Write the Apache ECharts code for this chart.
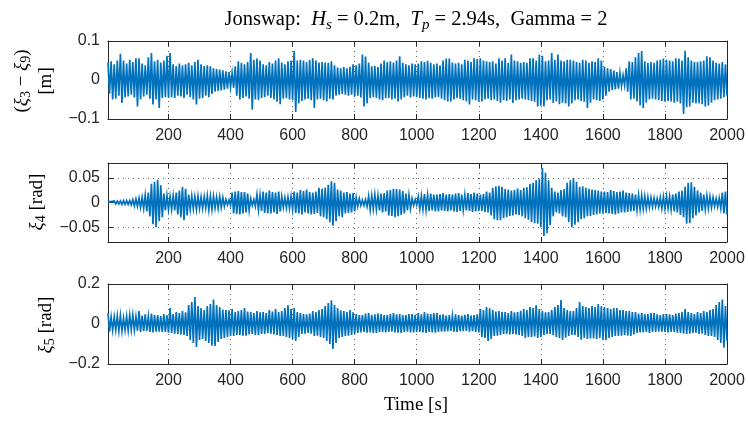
<!DOCTYPE html>
<html><head><meta charset="utf-8">
<script src="https://cdn.jsdelivr.net/npm/echarts@6/dist/echarts.min.js"></script>
<style>html,body{margin:0;padding:0;background:#fff}#c{width:748px;height:421px}</style>
</head><body><div id="c"></div>
<script>
// Peaks: upper peaks at t = 5 + 10 i, lower troughs at t = 10 + 10 i (s)
const peakStart = 5, peakStep = 10;
const xTicks = [200, 400, 600, 800, 1000, 1200, 1400, 1600, 1800, 2000];
const y1Ticks = [-0.1, 0, 0.1];
const y2Ticks = [-0.05, 0, 0.05];
const y3Ticks = [-0.2, 0, 0.2];

// (xi3 - xi9) [m]
const relUpper = [
.045,.048,.040,.050,.067,.050,.042,.052,.046,.056,
.056,.042,.038,.058,.069,.048,.052,.045,.050,.062,
.069,.040,.036,.042,.038,.040,.044,.038,.046,.052,
.040,.036,.038,.035,.030,.028,.027,.025,.022,.020,
.018,.035,.048,.044,.040,.046,.069,.052,.055,.050,
.040,.038,.046,.042,.050,.056,.045,.040,.048,.050,
.074,.050,.052,.050,.046,.052,.056,.050,.045,.046,
.045,.044,.048,.038,.032,.030,.033,.030,.034,.040,
.038,.042,.065,.060,.045,.035,.036,.033,.042,.050,
.046,.048,.045,.050,.061,.044,.040,.038,.042,.040,
.042,.048,.046,.049,.044,.040,.042,.038,.050,.055,
.055,.045,.042,.044,.040,.052,.050,.046,.056,.054,
.056,.050,.048,.046,.048,.042,.056,.050,.056,.044,
.065,.050,.048,.044,.046,.044,.056,.056,.050,.065,
.062,.048,.050,.069,.052,.065,.050,.048,.052,.052,
.050,.046,.044,.052,.050,.044,.048,.046,.056,.050,
.034,.030,.028,.024,.020,.018,.012,.030,.048,.046,
.058,.069,.074,.048,.044,.046,.044,.050,.052,.055,
.052,.050,.048,.056,.055,.050,.075,.058,.050,.046,
.046,.048,.050,.061,.058,.050,.044,.042,.046,.040];
const relLower = [
-.035,-.050,-.048,-.040,-.059,-.045,-.042,-.038,-.045,-.068,
-.050,-.042,-.038,-.048,-.063,-.050,-.072,-.046,-.044,-.046,
-.044,-.046,-.040,-.042,-.046,-.038,-.044,-.050,-.063,-.048,
-.046,-.040,-.044,-.036,-.030,-.028,-.027,-.025,-.022,-.018,
-.020,-.040,-.050,-.046,-.042,-.048,-.076,-.050,-.052,-.046,
-.044,-.040,-.046,-.050,-.056,-.062,-.048,-.046,-.050,-.052,
-.082,-.060,-.054,-.050,-.048,-.052,-.072,-.050,-.048,-.052,
-.055,-.048,-.050,-.040,-.038,-.036,-.038,-.040,-.038,-.042,
-.040,-.045,-.068,-.060,-.046,-.044,-.046,-.050,-.052,-.047,
-.046,-.050,-.048,-.055,-.050,-.044,-.040,-.045,-.042,-.044,
-.046,-.048,-.050,-.046,-.048,-.045,-.044,-.048,-.052,-.055,
-.055,-.050,-.046,-.048,-.052,-.055,-.063,-.050,-.052,-.055,
-.055,-.050,-.048,-.052,-.050,-.054,-.058,-.052,-.054,-.050,
-.059,-.052,-.050,-.048,-.050,-.052,-.054,-.056,-.068,-.066,
-.068,-.052,-.050,-.059,-.055,-.062,-.058,-.060,-.068,-.060,
-.052,-.050,-.054,-.056,-.072,-.058,-.050,-.052,-.054,-.050,
-.040,-.030,-.026,-.024,-.022,-.016,-.014,-.030,-.050,-.048,
-.055,-.065,-.072,-.058,-.050,-.048,-.050,-.052,-.054,-.055,
-.054,-.055,-.058,-.056,-.060,-.087,-.070,-.068,-.058,-.060,
-.060,-.062,-.068,-.065,-.058,-.052,-.050,-.048,-.044,-.040];

// xi4 [rad]
const rollUpper = [
.002,.002,.003,.003,.003,.004,.004,.004,.006,.007,
.009,.010,.015,.020,.038,.042,.046,.035,.018,.014,
.012,.014,.020,.024,.032,.028,.016,.013,.012,.013,
.011,.012,.014,.013,.013,.011,.012,.010,.006,.005,
.020,.022,.023,.021,.021,.018,.008,.006,.016,.015,
.022,.020,.024,.021,.020,.022,.012,.010,.011,.012,
.022,.020,.025,.023,.026,.021,.020,.022,.030,.028,
.030,.036,.043,.040,.026,.024,.020,.021,.018,.019,
.010,.008,.005,.006,.013,.014,.016,.014,.018,.019,
.024,.025,.028,.027,.026,.023,.018,.015,.008,.006,
.012,.013,.017,.015,.018,.016,.016,.017,.019,.016,
.017,.016,.018,.019,.016,.015,.019,.017,.020,.018,
.016,.017,.022,.020,.030,.033,.034,.032,.027,.026,
.024,.025,.028,.025,.030,.031,.038,.040,.045,.048,
.070,.060,.045,.030,.022,.020,.025,.027,.040,.045,
.050,.042,.032,.033,.030,.028,.026,.025,.024,.022,
.022,.021,.025,.023,.021,.022,.024,.020,.019,.018,
.016,.015,.014,.013,.011,.010,.009,.008,.010,.012,
.013,.012,.016,.018,.022,.024,.032,.040,.041,.032,
.024,.020,.016,.014,.012,.010,.008,.009,.020,.022];
const rollLower = [
-.002,-.002,-.003,-.003,-.004,-.004,-.004,-.005,-.007,-.008,
-.010,-.012,-.018,-.028,-.044,-.050,-.038,-.030,-.016,-.014,
-.014,-.016,-.024,-.030,-.036,-.026,-.014,-.013,-.014,-.012,
-.012,-.011,-.015,-.014,-.011,-.012,-.010,-.008,-.005,-.006,
-.022,-.023,-.024,-.022,-.020,-.016,-.006,-.008,-.015,-.017,
-.021,-.022,-.022,-.020,-.023,-.018,-.010,-.011,-.012,-.014,
-.021,-.022,-.024,-.020,-.022,-.024,-.023,-.021,-.028,-.030,
-.034,-.040,-.047,-.038,-.028,-.030,-.022,-.021,-.020,-.018,
-.008,-.006,-.006,-.008,-.015,-.013,-.014,-.016,-.020,-.018,
-.026,-.027,-.030,-.028,-.025,-.022,-.016,-.012,-.006,-.005,
-.013,-.014,-.015,-.017,-.016,-.018,-.018,-.016,-.017,-.018,
-.016,-.018,-.019,-.017,-.015,-.016,-.017,-.019,-.018,-.017,
-.017,-.019,-.020,-.026,-.034,-.036,-.036,-.032,-.030,-.027,
-.026,-.024,-.025,-.028,-.032,-.035,-.040,-.042,-.043,-.050,
-.068,-.062,-.046,-.028,-.020,-.022,-.028,-.030,-.040,-.050,
-.045,-.040,-.034,-.032,-.028,-.027,-.025,-.024,-.022,-.022,
-.021,-.022,-.023,-.024,-.022,-.020,-.020,-.019,-.018,-.017,
-.015,-.014,-.013,-.012,-.010,-.009,-.008,-.009,-.012,-.013,
-.012,-.014,-.018,-.020,-.025,-.030,-.043,-.042,-.032,-.026,
-.020,-.017,-.014,-.012,-.010,-.008,-.009,-.012,-.022,-.024];

// xi5 [rad]
const pitchUpper = [
.055,.035,.035,.040,.042,.030,.038,.045,.045,.036,
.065,.042,.048,.038,.052,.045,.045,.040,.050,.044,
.080,.050,.060,.055,.065,.058,.095,.110,.135,.090,
.080,.070,.090,.100,.122,.095,.085,.072,.070,.068,
.075,.060,.065,.070,.080,.062,.060,.055,.065,.058,
.060,.055,.070,.062,.075,.060,.065,.080,.093,.075,
.080,.060,.055,.050,.048,.052,.065,.060,.070,.075,
.090,.105,.118,.095,.080,.068,.065,.060,.070,.058,
.050,.045,.045,.052,.055,.046,.048,.052,.050,.045,
.045,.050,.055,.048,.050,.044,.045,.050,.050,.046,
.055,.048,.060,.052,.050,.055,.055,.046,.048,.042,
.045,.040,.048,.044,.042,.046,.050,.042,.045,.048,
.075,.070,.085,.078,.070,.062,.065,.060,.060,.055,
.065,.058,.060,.066,.075,.070,.085,.080,.093,.075,
.065,.058,.060,.070,.085,.095,.120,.080,.070,.065,
.065,.080,.110,.090,.085,.080,.090,.085,.100,.088,
.085,.080,.075,.080,.080,.070,.070,.065,.065,.060,
.060,.052,.055,.050,.050,.055,.055,.048,.045,.050,
.050,.048,.045,.052,.055,.060,.075,.060,.055,.050,
.060,.055,.065,.060,.070,.075,.095,.110,.122,.090];
const pitchLower = [
-.038,-.032,-.030,-.035,-.035,-.030,-.032,-.028,-.030,-.034,
-.040,-.036,-.035,-.040,-.042,-.038,-.038,-.040,-.040,-.044,
-.045,-.048,-.050,-.052,-.055,-.060,-.080,-.095,-.115,-.080,
-.075,-.085,-.095,-.108,-.110,-.090,-.075,-.070,-.065,-.060,
-.060,-.055,-.055,-.058,-.058,-.052,-.050,-.055,-.055,-.050,
-.050,-.046,-.048,-.052,-.055,-.060,-.060,-.065,-.070,-.075,
-.085,-.065,-.050,-.048,-.045,-.048,-.060,-.058,-.065,-.070,
-.085,-.100,-.125,-.095,-.070,-.065,-.060,-.058,-.055,-.050,
-.045,-.042,-.040,-.044,-.042,-.045,-.045,-.040,-.040,-.042,
-.040,-.038,-.042,-.044,-.045,-.040,-.038,-.042,-.042,-.040,
-.040,-.042,-.045,-.040,-.042,-.044,-.040,-.038,-.038,-.036,
-.035,-.038,-.040,-.036,-.036,-.034,-.038,-.036,-.040,-.042,
-.065,-.070,-.085,-.075,-.060,-.058,-.055,-.050,-.050,-.052,
-.050,-.052,-.055,-.060,-.070,-.065,-.065,-.062,-.070,-.066,
-.055,-.050,-.050,-.056,-.065,-.070,-.080,-.068,-.060,-.055,
-.055,-.065,-.078,-.070,-.075,-.072,-.072,-.075,-.070,-.078,
-.080,-.070,-.065,-.060,-.060,-.058,-.055,-.058,-.060,-.052,
-.045,-.042,-.042,-.040,-.045,-.040,-.040,-.038,-.038,-.040,
-.042,-.040,-.040,-.044,-.045,-.048,-.050,-.048,-.045,-.044,
-.050,-.048,-.055,-.060,-.060,-.065,-.080,-.095,-.118,-.085];

function weave(up, lo) {
  const out = [];
  for (let i = 0; i < up.length; i++) {
    out.push([peakStart + peakStep * i, up[i]]);
    out.push([peakStart + peakStep * i + peakStep / 2, lo[i]]);
  }
  return out;
}

const INK = '#262626';
const BLUE = '#0072BD';
const TICKFONT = 'Liberation Sans, Arial, sans-serif';
const SERIF = 'Liberation Serif, Times New Roman, serif';
const fmt = v => (Math.abs(v) < 1e-9 ? '0' : String(+v.toFixed(3)).replace('-', '\u2212'));

const panels = [
  {top: 41, height: 78, min: -0.1, max: 0.1, ticks: y1Ticks, data: weave(relUpper, relLower)},
  {top: 163, height: 79, min: -0.08, max: 0.08, ticks: y2Ticks, data: weave(rollUpper, rollLower)},
  {top: 284, height: 80, min: -0.2, max: 0.2, ticks: y3Ticks, data: weave(pitchUpper, pitchLower)}
];

const grid = [], xAxis = [], yAxis = [], series = [];
const dotted = {show: true, lineStyle: {color: '#666', width: 1, type: [1, 4]}};
panels.forEach((p, k) => {
  grid.push({left: 108, top: p.top, width: 619, height: p.height, show: false});
  const base = {
    gridIndex: k, type: 'value', min: 5, max: 2000,
    axisLine: {show: true, onZero: false, lineStyle: {color: INK, width: 1}},
    axisTick: {show: true, inside: true, length: 5, customValues: xTicks, lineStyle: {color: INK}}
  };
  xAxis.push(Object.assign({}, base, {
    position: 'bottom',
    axisLabel: {show: true, customValues: xTicks, margin: 9, fontSize: 16, fontFamily: TICKFONT, color: INK,
      formatter: v => String(Math.round(v))},
    splitLine: dotted
  }));
  xAxis.push(Object.assign({}, base, {position: 'top', axisLabel: {show: false}, splitLine: {show: false}}));
  const ybase = {
    gridIndex: k, type: 'value', min: p.min, max: p.max,
    axisLine: {show: true, onZero: false, lineStyle: {color: INK, width: 1}},
    axisTick: {show: true, inside: true, length: 5, customValues: p.ticks, lineStyle: {color: INK}}
  };
  yAxis.push(Object.assign({}, ybase, {
    position: 'left',
    axisLabel: {show: true, customValues: p.ticks, margin: 8, fontSize: 16, fontFamily: TICKFONT, color: INK, formatter: fmt},
    splitLine: dotted
  }));
  yAxis.push(Object.assign({}, ybase, {position: 'right', axisLabel: {show: false}, splitLine: {show: false}}));
  series.push({
    type: 'line', xAxisIndex: 2 * k, yAxisIndex: 2 * k, data: p.data,
    showSymbol: false, symbol: 'none', sampling: null, clip: true,
    lineStyle: {color: BLUE, width: 1.7, join: 'miter'},
    areaStyle: {color: BLUE, opacity: 1, origin: 0},
    z: 3
  });
});

const rich = {
  n: {fontFamily: SERIF, fontSize: 19, color: INK},
  i: {fontFamily: SERIF, fontSize: 19, fontStyle: 'italic', color: INK},
  s: {fontFamily: SERIF, fontSize: 14, fontStyle: 'italic', color: INK, padding: [9, 0, 0, 0]},
  d: {fontFamily: SERIF, fontSize: 14, color: INK, padding: [9, 0, 0, 0]},
  tn: {fontFamily: SERIF, fontSize: 20.5, color: INK},
  ti: {fontFamily: SERIF, fontSize: 20.5, fontStyle: 'italic', color: INK},
  ts: {fontFamily: SERIF, fontSize: 15, fontStyle: 'italic', color: INK, padding: [10, 0, 0, 0]}
};

const graphic = [
  {type: 'text', x: 416, y: 20, style: {
    text: '{tn|Jonswap:  }{ti|H}{ts|s}{tn| = 0.2m,  }{ti|T}{ts|p}{tn| = 2.94s,  Gamma = 2}',
    rich: rich, align: 'center', verticalAlign: 'middle'}},
  {type: 'text', x: 22, y: 81, rotation: Math.PI / 2, style: {
    text: '{n|(}{i|\u03be}{d|3}{n| \u2212 }{i|\u03be}{d|9}{n|)}', rich: rich, align: 'center', verticalAlign: 'middle'}},
  {type: 'text', x: 46, y: 81, rotation: Math.PI / 2, style: {
    text: '{n|[m]}', rich: rich, align: 'center', verticalAlign: 'middle'}},
  {type: 'text', x: 37, y: 202, rotation: Math.PI / 2, style: {
    text: '{i|\u03be}{d|4}{n| [rad]}', rich: rich, align: 'center', verticalAlign: 'middle'}},
  {type: 'text', x: 46, y: 325, rotation: Math.PI / 2, style: {
    text: '{i|\u03be}{d|5}{n| [rad]}', rich: rich, align: 'center', verticalAlign: 'middle'}},
  {type: 'text', x: 416, y: 405, style: {
    text: '{n|Time [s]}', rich: rich, align: 'center', verticalAlign: 'middle'}}
];

const chart = echarts.init(document.getElementById('c'), null, {renderer: 'canvas'});
chart.setOption({
  animation: false,
  backgroundColor: '#fff',
  grid, xAxis, yAxis, series, graphic
});
</script>
</body></html>
